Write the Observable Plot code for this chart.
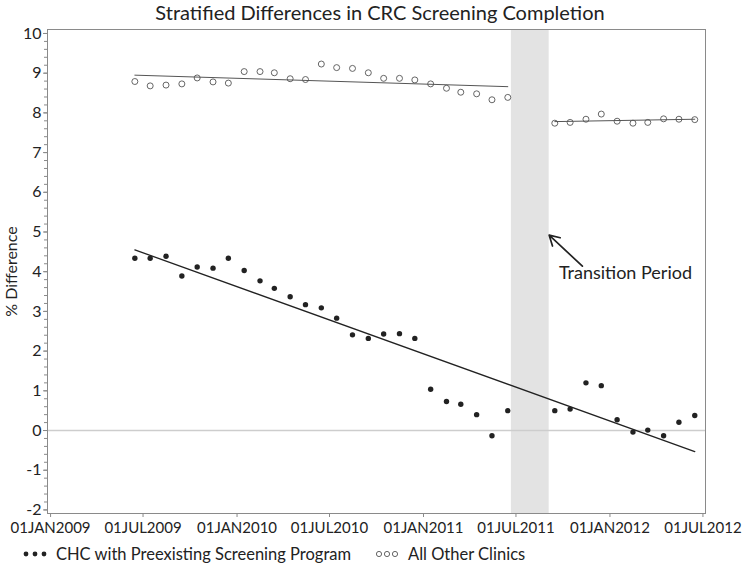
<!DOCTYPE html>
<html>
<head>
<meta charset="utf-8">
<script src="https://cdn.jsdelivr.net/npm/d3@7"></script>
<script src="https://cdn.jsdelivr.net/npm/@observablehq/plot@0.6"></script>
<style>
  body { margin: 0; background: #fff; font-family: Lato, "Open Sans", sans-serif; }
  #wrap { position: relative; width: 742px; height: 568px; overflow: hidden; }
  #chart { position: absolute; top: 0; left: 0; }
  #title { position: absolute; top: 0; left: 9px; width: 742px; text-align: center;
           font-size: 20px; line-height: 25px; color: #222; }
  #legend { position: absolute; top: 543px; left: 23px; height: 22px; display: flex;
            align-items: center; font-size: 16.5px; color: #222; white-space: nowrap; }
  #legend svg { margin-right: 5px; }
</style>
</head>
<body>
<div id="wrap">
  <div id="chart"></div>
  <div id="title">Stratified Differences in CRC Screening Completion</div>
  <div id="legend">
    <svg width="28" height="10"><circle cx="3" cy="5" r="2.4" fill="#222"/><circle cx="12" cy="5" r="2.4" fill="#222"/><circle cx="21" cy="5" r="2.4" fill="#222"/></svg>
    <span>CHC with Preexisting Screening Program</span>
    <svg width="28" height="10" style="margin-left:24px"><circle cx="4" cy="5" r="2.6" fill="none" stroke="#555" stroke-width="0.9"/><circle cx="12" cy="5" r="2.6" fill="none" stroke="#555" stroke-width="0.9"/><circle cx="20" cy="5" r="2.6" fill="none" stroke="#555" stroke-width="0.9"/></svg>
    <span>All Other Clinics</span>
  </div>
</div>
<script>
// ---- data ----
const preMonths = ["2009-06","2009-07","2009-08","2009-09","2009-10","2009-11","2009-12",
  "2010-01","2010-02","2010-03","2010-04","2010-05","2010-06","2010-07","2010-08","2010-09",
  "2010-10","2010-11","2010-12","2011-01","2011-02","2011-03","2011-04","2011-05","2011-06"];
const postMonths = ["2011-09","2011-10","2011-11","2011-12","2012-01","2012-02","2012-03",
  "2012-04","2012-05","2012-06"];

const chcPre = [4.34,4.34,4.39,3.89,4.12,4.09,4.34,4.03,3.77,3.58,3.37,3.17,3.09,2.83,
  2.41,2.32,2.43,2.44,2.32,1.04,0.73,0.66,0.40,-0.13,0.50];
const chcPost = [0.50,0.54,1.20,1.13,0.27,-0.04,0.01,-0.13,0.21,0.38];

const otherPre = [8.79,8.68,8.70,8.73,8.88,8.78,8.75,9.04,9.04,9.01,8.86,8.84,9.23,9.14,
  9.12,9.01,8.87,8.87,8.83,8.73,8.62,8.52,8.48,8.33,8.39];
const otherPost = [7.74,7.76,7.84,7.97,7.79,7.74,7.76,7.85,7.84,7.83];

// fitted trend lines (endpoints)
const chcTrendMonths = ["2009-06","2012-06"];
const chcTrendValues = [4.55,-0.53];
const otherTrendPreMonths = ["2009-06","2011-06"];
const otherTrendPreValues = [8.95,8.66];
const otherTrendPostMonths = ["2011-09","2012-06"];
const otherTrendPostValues = [7.78,7.84];

// transition period shading
const transitionStart = "2011-06-22";
const transitionEnd = "2011-09-04";

// annotation
const annotationText = "Transition Period";
const annotationAt = {date: "2011-09-23", value: 3.96};
const arrowFrom = {date: "2011-11-08", value: 4.14};
const arrowTo = {date: "2011-09-04", value: 4.92};

// axes
const xTickDates = ["2009-01-01","2009-07-01","2010-01-01","2010-07-01","2011-01-01",
  "2011-07-01","2012-01-01","2012-07-01"];
const yTickValues = [-2,-1,0,1,2,3,4,5,6,7,8,9,10];

// ---- build ----
const mid = m => new Date(m + "-15T00:00:00Z");
const day = s => new Date(s + "T00:00:00Z");
const rows = (months, vals) => months.map((m, i) => ({date: mid(m), value: vals[i]}));

const chcRows = rows(preMonths, chcPre).concat(rows(postMonths, chcPost));
const otherRows = rows(preMonths, otherPre).concat(rows(postMonths, otherPost));
const chcTrend = rows(chcTrendMonths, chcTrendValues);
const otherTrendPre = rows(otherTrendPreMonths, otherTrendPreValues);
const otherTrendPost = rows(otherTrendPostMonths, otherTrendPostValues);
const yMinor = d3.range(-10, 51).map(i => i / 5);
const fmt = d3.utcFormat("%d%b%Y");

const chart = Plot.plot({
  width: 742,
  height: 568,
  marginLeft: 47,
  marginRight: 37,
  marginTop: 29,
  marginBottom: 55,
  style: {fontFamily: "Lato, 'Open Sans', sans-serif", fontSize: "16px", color: "#222", background: "white", overflow: "visible"},
  x: {type: "utc", domain: [day("2008-12-26"), day("2012-07-06")]},
  y: {domain: [-2.09, 10.1]},
  marks: [
    Plot.rect([{x1: day(transitionStart), x2: day(transitionEnd)}], {x1: "x1", x2: "x2", fill: "#e3e3e3"}),
    Plot.ruleY([0], {stroke: "#cdcdcd", strokeWidth: 1.6}),
    Plot.line(chcTrend, {x: "date", y: "value", stroke: "#222", strokeWidth: 1.3}),
    Plot.line(otherTrendPre, {x: "date", y: "value", stroke: "#555", strokeWidth: 1}),
    Plot.line(otherTrendPost, {x: "date", y: "value", stroke: "#555", strokeWidth: 1}),
    Plot.dot(chcRows, {x: "date", y: "value", r: 2.7, fill: "#222", stroke: "none"}),
    Plot.dot(otherRows, {x: "date", y: "value", r: 3, fill: "none", stroke: "#555", strokeWidth: 0.9}),
    Plot.frame({stroke: "#8a8a8a"}),
    Plot.axisY({ticks: yMinor, tickSize: 3, text: null, stroke: "#8a8a8a", label: null}),
    Plot.axisY({ticks: yTickValues, tickSize: 4, tickPadding: 2, tickFormat: d => String(d),
      stroke: "#8a8a8a", fill: "#222", fontSize: 16,
      label: "% Difference", labelAnchor: "center", labelArrow: "none", labelOffset: 42}),
    Plot.axisX({ticks: xTickDates.map(day), tickSize: 4, tickPadding: 5,
      tickFormat: d => fmt(d).toUpperCase(), stroke: "#8a8a8a", fill: "#222", fontSize: 15, label: null}),
    Plot.arrow([{x1: day(arrowFrom.date), y1: arrowFrom.value, x2: day(arrowTo.date), y2: arrowTo.value}],
      {x1: "x1", y1: "y1", x2: "x2", y2: "y2", stroke: "#222", strokeWidth: 1.7, headLength: 10}),
    Plot.text([{date: day(annotationAt.date), value: annotationAt.value, t: annotationText}],
      {x: "date", y: "value", text: "t", textAnchor: "start", fontSize: 18, fill: "#222"})
  ]
});
document.getElementById("chart").appendChild(chart);
</script>
</body>
</html>
